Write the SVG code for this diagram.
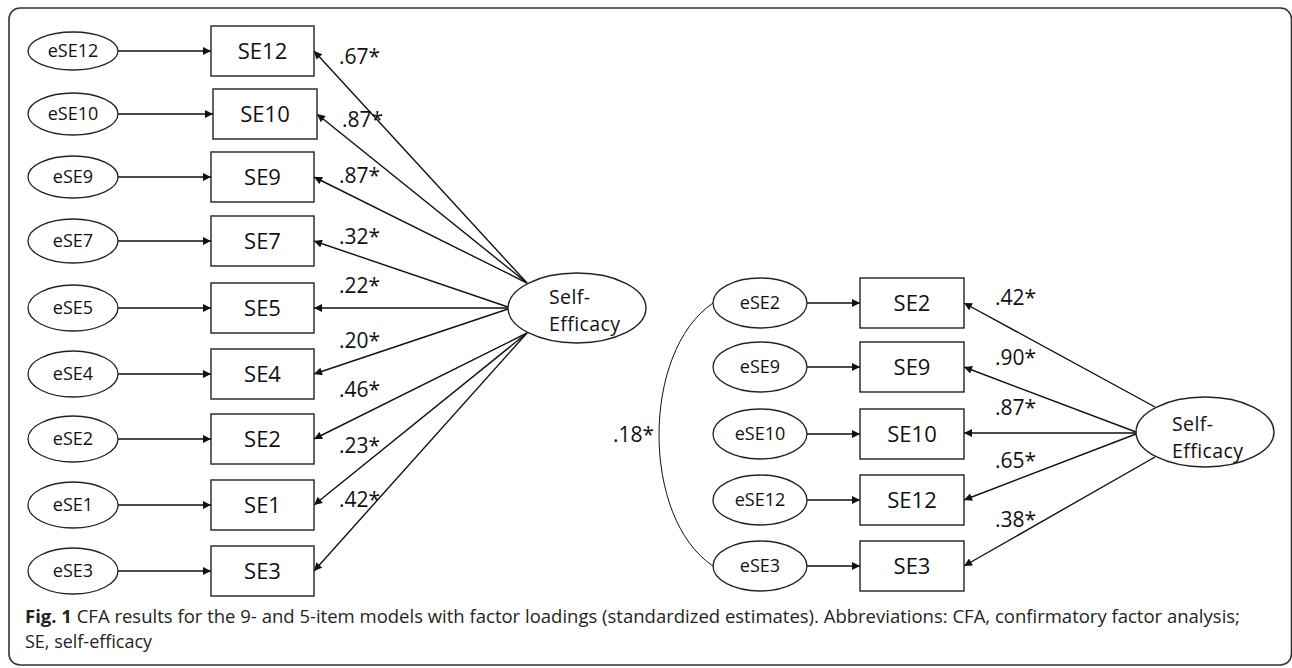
<svg xmlns="http://www.w3.org/2000/svg" width="1292" height="668" viewBox="0 0 1292 668">
  <style>
    text { font-family: "Open Sans", "Noto Sans", "Liberation Sans", sans-serif; fill: #111; }
    .box { fill: #fff; stroke: #222; stroke-width: 1.4; }
    .err { fill: #fff; stroke: #222; stroke-width: 1.3; }
    .fac { fill: #fff; stroke: #222; stroke-width: 1.4; }
    .item { font-size: 22px; text-anchor: middle; }
    .elab { font-size: 18px; text-anchor: middle; }
    .flab { font-size: 19.5px; letter-spacing: 0.4px; }
    .load { font-size: 21px; }
    .path { stroke: #111; stroke-width: 1.4; fill: none; marker-end: url(#ah); }
    .cov { stroke: #111; stroke-width: 1; fill: none; }
    .cap { font-size: 17.5px; fill: #231f20; }
  </style>
  <defs>
    <marker id="ah" viewBox="0 0 10 10" refX="10" refY="5" markerWidth="10" markerHeight="8" markerUnits="userSpaceOnUse" orient="auto">
      <path d="M0,0 L10,5 L0,10 z" fill="#111"/>
    </marker>
  </defs>

  <!-- frame -->
  <rect x="9" y="8" width="1282.5" height="657" rx="11" ry="11" fill="#fff" stroke="#333" stroke-width="1.6"/>

  <!-- connectors -->
  <g id="connectors">
    <!-- 9-item model: residual paths -->
    <line class="path" x1="118" y1="51" x2="211" y2="51"/>
    <line class="path" x1="118" y1="114" x2="213" y2="114"/>
    <line class="path" x1="118" y1="177" x2="211" y2="177"/>
    <line class="path" x1="118" y1="241" x2="211" y2="241"/>
    <line class="path" x1="118" y1="308" x2="211" y2="308"/>
    <line class="path" x1="118" y1="374" x2="211" y2="374"/>
    <line class="path" x1="118" y1="439" x2="211" y2="439"/>
    <line class="path" x1="118" y1="505" x2="211" y2="505"/>
    <line class="path" x1="118" y1="571" x2="211" y2="571"/>
    <!-- 9-item model: loadings -->
    <line class="path" x1="527" y1="283" x2="314" y2="51"/>
    <line class="path" x1="527" y1="283" x2="317" y2="114"/>
    <line class="path" x1="527" y1="283" x2="314" y2="177"/>
    <line class="path" x1="508" y1="307" x2="314" y2="241"/>
    <line class="path" x1="508" y1="308" x2="314" y2="308"/>
    <line class="path" x1="508" y1="309" x2="314" y2="374"/>
    <line class="path" x1="527" y1="333" x2="314" y2="439"/>
    <line class="path" x1="527" y1="333" x2="314" y2="505"/>
    <line class="path" x1="527" y1="333" x2="314" y2="571"/>
    <!-- 5-item model: residual paths -->
    <line class="path" x1="807" y1="303" x2="860" y2="303"/>
    <line class="path" x1="807" y1="367" x2="860" y2="367"/>
    <line class="path" x1="807" y1="434" x2="860" y2="434"/>
    <line class="path" x1="807" y1="500" x2="860" y2="500"/>
    <line class="path" x1="807" y1="566" x2="860" y2="566"/>
    <!-- 5-item model: loadings -->
    <line class="path" x1="1155" y1="407" x2="964" y2="303"/>
    <line class="path" x1="1136" y1="432" x2="964" y2="367"/>
    <line class="path" x1="1136" y1="433" x2="964" y2="433"/>
    <line class="path" x1="1136" y1="434" x2="964" y2="500"/>
    <line class="path" x1="1155" y1="457" x2="964" y2="566"/>
    <!-- residual covariance eSE2 - eSE3 -->
    <path class="cov" d="M713,303 C641,352 641,518 713,566"/>
  </g>

  <!-- connector labels -->
  <g id="loadings">
    <text class="load" x="339" y="64">.67*</text>
    <text class="load" x="342" y="127">.87*</text>
    <text class="load" x="339" y="183">.87*</text>
    <text class="load" x="339" y="244">.32*</text>
    <text class="load" x="339" y="293">.22*</text>
    <text class="load" x="339" y="348">.20*</text>
    <text class="load" x="339" y="397">.46*</text>
    <text class="load" x="339" y="453">.23*</text>
    <text class="load" x="339" y="507">.42*</text>
    <text class="load" x="995" y="305">.42*</text>
    <text class="load" x="995" y="365">.90*</text>
    <text class="load" x="995" y="415">.87*</text>
    <text class="load" x="995" y="468">.65*</text>
    <text class="load" x="995" y="527">.38*</text>
    <text class="load" x="613" y="442">.18*</text>
  </g>

  <!-- 9-item model nodes -->
  <g id="m9-eSE12"><ellipse class="err" cx="73" cy="51" rx="45" ry="19"/><text class="elab" x="73" y="57">eSE12</text></g>
  <g id="m9-eSE10"><ellipse class="err" cx="73" cy="114" rx="45" ry="21"/><text class="elab" x="73" y="120">eSE10</text></g>
  <g id="m9-eSE9"><ellipse class="err" cx="73" cy="177" rx="45" ry="21"/><text class="elab" x="73" y="183">eSE9</text></g>
  <g id="m9-eSE7"><ellipse class="err" cx="73" cy="241" rx="45" ry="22"/><text class="elab" x="73" y="247">eSE7</text></g>
  <g id="m9-eSE5"><ellipse class="err" cx="73" cy="308" rx="45" ry="23"/><text class="elab" x="73" y="314">eSE5</text></g>
  <g id="m9-eSE4"><ellipse class="err" cx="73" cy="374" rx="45" ry="23"/><text class="elab" x="73" y="380">eSE4</text></g>
  <g id="m9-eSE2"><ellipse class="err" cx="73" cy="439" rx="45" ry="23"/><text class="elab" x="73" y="445">eSE2</text></g>
  <g id="m9-eSE1"><ellipse class="err" cx="73" cy="505" rx="45" ry="23"/><text class="elab" x="73" y="511">eSE1</text></g>
  <g id="m9-eSE3"><ellipse class="err" cx="73" cy="571" rx="45" ry="23"/><text class="elab" x="73" y="577">eSE3</text></g>

  <g id="m9-SE12"><rect class="box" x="211" y="26" width="103" height="50"/><text class="item" x="262.5" y="59">SE12</text></g>
  <g id="m9-SE10"><rect class="box" x="213" y="89" width="104" height="50"/><text class="item" x="265" y="122">SE10</text></g>
  <g id="m9-SE9"><rect class="box" x="211" y="152" width="103" height="50"/><text class="item" x="262.5" y="185">SE9</text></g>
  <g id="m9-SE7"><rect class="box" x="211" y="216" width="103" height="50"/><text class="item" x="262.5" y="249">SE7</text></g>
  <g id="m9-SE5"><rect class="box" x="211" y="283" width="103" height="50"/><text class="item" x="262.5" y="316">SE5</text></g>
  <g id="m9-SE4"><rect class="box" x="211" y="349" width="103" height="50"/><text class="item" x="262.5" y="382">SE4</text></g>
  <g id="m9-SE2"><rect class="box" x="211" y="414" width="103" height="50"/><text class="item" x="262.5" y="447">SE2</text></g>
  <g id="m9-SE1"><rect class="box" x="211" y="480" width="103" height="50"/><text class="item" x="262.5" y="513">SE1</text></g>
  <g id="m9-SE3"><rect class="box" x="211" y="546" width="103" height="50"/><text class="item" x="262.5" y="579">SE3</text></g>

  <g id="m9-factor">
    <ellipse class="fac" cx="577" cy="308" rx="69" ry="35"/>
    <text class="flab" x="549" y="304">Self-<tspan x="549" dy="26.8">Efficacy</tspan></text>
  </g>

  <!-- 5-item model nodes -->
  <g id="m5-eSE2"><ellipse class="err" cx="760" cy="303" rx="47" ry="25"/><text class="elab" x="760" y="309">eSE2</text></g>
  <g id="m5-eSE9"><ellipse class="err" cx="760" cy="367" rx="47" ry="25"/><text class="elab" x="760" y="373">eSE9</text></g>
  <g id="m5-eSE10"><ellipse class="err" cx="760" cy="434" rx="47" ry="25"/><text class="elab" x="760" y="440">eSE10</text></g>
  <g id="m5-eSE12"><ellipse class="err" cx="760" cy="500" rx="47" ry="25"/><text class="elab" x="760" y="506">eSE12</text></g>
  <g id="m5-eSE3"><ellipse class="err" cx="760" cy="566" rx="47" ry="25"/><text class="elab" x="760" y="572">eSE3</text></g>

  <g id="m5-SE2"><rect class="box" x="860" y="278" width="104" height="50"/><text class="item" x="912" y="311">SE2</text></g>
  <g id="m5-SE9"><rect class="box" x="860" y="342" width="104" height="50"/><text class="item" x="912" y="375">SE9</text></g>
  <g id="m5-SE10"><rect class="box" x="860" y="409" width="104" height="50"/><text class="item" x="912" y="442">SE10</text></g>
  <g id="m5-SE12"><rect class="box" x="860" y="475" width="104" height="50"/><text class="item" x="912" y="508">SE12</text></g>
  <g id="m5-SE3"><rect class="box" x="860" y="541" width="104" height="50"/><text class="item" x="912" y="574">SE3</text></g>

  <g id="m5-factor">
    <ellipse class="fac" cx="1205" cy="432" rx="69" ry="35"/>
    <text class="flab" x="1172" y="431">Self-<tspan x="1172" dy="26.8">Efficacy</tspan></text>
  </g>

  <!-- caption -->
  <g id="caption">
    <text class="cap" x="25" y="623" textLength="1215" lengthAdjust="spacingAndGlyphs"><tspan font-weight="bold">Fig. 1</tspan> CFA results for the 9- and 5-item models with factor loadings (standardized estimates). Abbreviations: CFA, confirmatory factor analysis;</text>
    <text class="cap" x="25" y="648" textLength="127" lengthAdjust="spacingAndGlyphs">SE, self-efficacy</text>
  </g>
</svg>
